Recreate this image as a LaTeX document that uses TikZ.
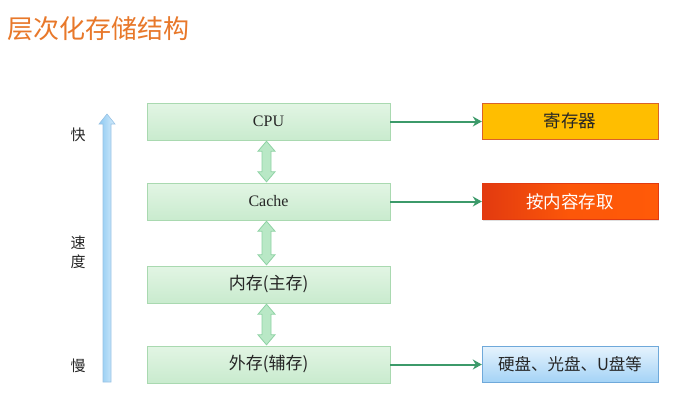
\documentclass[tikz,border=0pt]{standalone}
\usepackage{fontspec}
\setmainfont{Liberation Serif}
\newfontfamily\cjk{Noto Sans CJK SC}
\usetikzlibrary{shadows,arrows.meta,calc}
\definecolor{titleor}{HTML}{E8782A}
\definecolor{gfill}{HTML}{E2F5E4}
\definecolor{gfill2}{HTML}{C9EBCE}
\definecolor{gline}{HTML}{A9D9B0}
\definecolor{garrow}{HTML}{3C9A6A}
\definecolor{dafill}{HTML}{B9E8C6}
\definecolor{daline}{HTML}{8ED2A4}
\definecolor{orfill}{HTML}{FFBE00}
\definecolor{orline}{HTML}{D9622B}
\definecolor{redA}{HTML}{E23A10}
\definecolor{redB}{HTML}{FF5A08}
\definecolor{blA}{HTML}{E6F3FD}
\definecolor{blB}{HTML}{A4D3F6}
\definecolor{blline}{HTML}{6FA9DA}
\definecolor{spA}{HTML}{8CC9F2}
\definecolor{spB}{HTML}{D6ECFB}
\definecolor{txt}{HTML}{262626}
\tikzset{
  levelbox/.style={draw=gline, top color=gfill, bottom color=gfill2, minimum width=243pt, minimum height=37pt, inner sep=0pt, font=\fontsize{16}{18}\selectfont, text=txt, drop shadow={shadow xshift=0.8pt, shadow yshift=-1pt, opacity=0.25}},
  sidebox/.style={minimum width=176pt, minimum height=36pt, inner sep=0pt, font=\cjk\fontsize{17.5}{19}\selectfont, drop shadow={shadow xshift=0.8pt, shadow yshift=-1pt, opacity=0.25}},
  link/.style={draw=garrow, line width=2pt, -{Stealth[length=9pt,width=10pt]}},
  biarrow/.style={draw=daline, fill=dafill, line width=0.8pt, line join=miter},
  speedarrow/.style={draw=blline!70, left color=spA, right color=spB, line width=0.6pt},
  sidelabel/.style={font=\cjk\fontsize{15}{17}\selectfont, text=txt}
}
% double arrow between two points (top, bottom) in canvas coordinates (y up)
\newcommand\mybiarrow[2]{%
  \path[biarrow] let \p1=(#1), \p2=(#2) in
    (\x1,\y1) -- (\x1+8.5pt,\y1-10pt) -- (\x1+4.5pt,\y1-10pt) -- (\x1+4.5pt,\y2+10pt) -- (\x1+8.5pt,\y2+10pt)
    -- (\x1,\y2) -- (\x1-8.5pt,\y2+10pt) -- (\x1-4.5pt,\y2+10pt) -- (\x1-4.5pt,\y1-10pt) -- (\x1-8.5pt,\y1-10pt) -- cycle;}
\begin{document}
\begin{tikzpicture}[x=1pt,y=-1pt]
\useasboundingbox (0,0) rectangle (679,413);
\fill[white] (0,0) rectangle (679,413);
\node[anchor=west, text=titleor, font=\cjk\fontsize{26}{28}\selectfont] (title) at (4,29) {层次化存储结构};

\node[levelbox] (cpu) at (268.5,121.5) {CPU};
\node[levelbox] (cache) at (268.5,201.5) {Cache};
\node[levelbox, font=\cjk\fontsize{17}{19}\selectfont] (mem) at (268.5,284.5) {内存(主存)};
\node[levelbox, font=\cjk\fontsize{17}{19}\selectfont] (ext) at (268.5,364.5) {外存(辅存)};

\node[sidebox, draw=orline, fill=orfill, text=txt] (reg) at (570,121) {寄存器};
\node[sidebox, draw=redA, left color=redA, right color=redB, middle color=redB!90!redA, text=white] (cam) at (570,201.5) {按内容存取};
\node[sidebox, draw=blline, top color=blA, bottom color=blB, text=txt, font=\cjk\fontsize{16.5}{18}\selectfont] (disk) at (570,364) {硬盘、光盘、U盘等};

\draw[link] (cpu.east) -- (cpu.east -| reg.west);
\draw[link] (cache.east) -- (cache.east -| cam.west);
\draw[link] (ext.east) -- (ext.east -| disk.west);

\coordinate (a1t) at ($(cpu.south)+(-2,1)$);
\coordinate (a1b) at ($(cache.north)+(-2,-1)$);
\coordinate (a2t) at ($(cache.south)+(-2,1)$);
\coordinate (a2b) at ($(mem.north)+(-2,-1)$);
\coordinate (a3t) at ($(mem.south)+(-2,1)$);
\coordinate (a3b) at ($(ext.north)+(-2,-1)$);
\mybiarrow{a1t}{a1b}
\mybiarrow{a2t}{a2b}
\mybiarrow{a3t}{a3b}

\path[speedarrow] (103,382) -- (103,124) -- (99,124) -- (107,114) -- (115,124) -- (111,124) -- (111,382) -- cycle;

\node[sidelabel] (fast) at (78,135) {快};
\node[sidelabel] (sp1) at (78,243) {速};
\node[sidelabel] (sp2) at (78,262) {度};
\node[sidelabel] (slow) at (78,366) {慢};
\end{tikzpicture}
\end{document}
